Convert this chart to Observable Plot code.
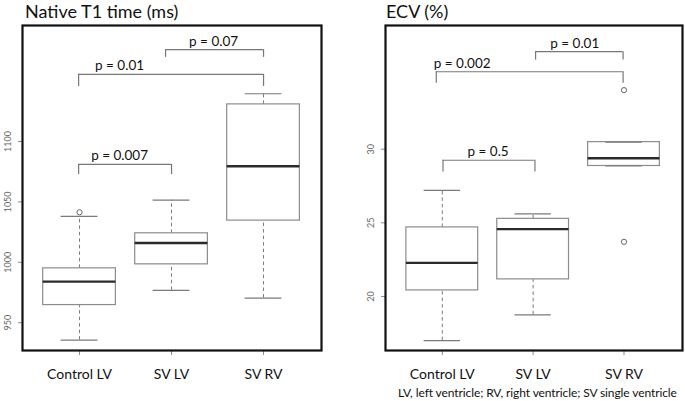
<!DOCTYPE html>
<html>
<head>
<meta charset="utf-8">
<script src="https://cdn.jsdelivr.net/npm/d3@7"></script>
<script src="https://cdn.jsdelivr.net/npm/@observablehq/plot@0.6"></script>
<style>
  body { margin: 0; background: #fff; font-family: Lato, "Open Sans", sans-serif; }
  #root { position: relative; width: 685px; height: 401px; overflow: hidden; }
  .title { position: absolute; font-size: 18px; color: #111; white-space: nowrap; line-height: 1; }
  .panel { position: absolute; }
  #foot { position: absolute; font-size: 12px; letter-spacing: -0.1px; color: #111; white-space: nowrap; line-height: 1; }
</style>
</head>
<body>
<div id="root">
  <div class="title" id="t1title" style="left:25px; top:2px;">Native T1 time (ms)</div>
  <div class="title" id="ecvtitle" style="left:386px; top:2px;">ECV (%)</div>
  <div class="panel" id="left" style="left:0; top:22px;"></div>
  <div class="panel" id="right" style="left:340px; top:22px;"></div>
  <div id="foot" style="left:398px; top:387px;">LV, left ventricle; RV, right ventricle; SV single ventricle</div>
</div>
<script>
const categories = ["Control LV", "SV LV", "SV RV"];

// Native T1 time (ms)
const t1Low    = [935.6, 976.8, 970.4];
const t1Q1     = [964.6, 998.3, 1034.5];
const t1Median = [984.0, 1016.0, 1079.5];
const t1Q3     = [995.0, 1024.0, 1130.7];
const t1High   = [1038.0, 1051.4, 1139.5];
const t1OutlierCat = ["Control LV"];
const t1OutlierVal = [1041.4];
const t1Ticks = [950, 1000, 1050, 1100];
const t1BracketLabel = ["p = 0.07", "p = 0.01", "p = 0.007"];
const t1BracketFrom  = [1.935, 0.99, 0.99];
const t1BracketTo    = [3.0, 3.0, 2.0];
const t1BracketY     = [1176, 1155.6, 1081];
const t1BracketDrop  = [1169.6, 1145.6, 1072.6];
const t1LabelX       = [2.457, 1.435, 1.435];

// ECV (%)
const ecvLow    = [17.0, 18.75, 28.86];
const ecvQ1     = [20.41, 21.16, 28.86];
const ecvMedian = [22.28, 24.57, 29.39];
const ecvQ3     = [24.69, 25.27, 30.48];
const ecvHigh   = [27.21, 25.61, 30.48];
const ecvOutlierCat = ["SV RV", "SV RV"];
const ecvOutlierVal = [34.01, 23.71];
const ecvTicks = [20, 25, 30];
const ecvBracketLabel = ["p = 0.01", "p = 0.002", "p = 0.5"];
const ecvBracketFrom  = [2.027, 0.934, 1.008];
const ecvBracketTo    = [2.99, 2.99, 2.02];
const ecvBracketY     = [36.62, 35.26, 29.25];
const ecvBracketDrop  = [36.05, 34.47, 28.46];
const ecvLabelX       = [2.458, 1.219, 1.504];

const BOX_HALF = 0.395, CAP_HALF = 0.2;
const FONT = "Lato, 'Open Sans', sans-serif";

function panel({low, q1, median, q3, high, outCat, outVal, ticks,
                bLabel, bFrom, bTo, bY, bDrop, bLabelX,
                width, height, marginLeft, marginRight, marginTop, marginBottom,
                xDomain, yDomain}) {
  const boxes = categories.map((c, i) => ({
    pos: i + 1, low: low[i], q1: q1[i], median: median[i], q3: q3[i], high: high[i]
  }));
  const outliers = outCat.map((c, i) => ({pos: categories.indexOf(c) + 1, v: outVal[i]}));
  const brackets = bLabel.map((l, i) => ({
    label: l, from: bFrom[i], to: bTo[i], y: bY[i], drop: bDrop[i], lx: bLabelX[i]
  }));
  return Plot.plot({
    width, height, marginLeft, marginRight, marginTop, marginBottom,
    style: {fontFamily: FONT, background: "white"},
    x: {type: "linear", domain: xDomain},
    y: {domain: yDomain},
    marks: [
      // whiskers (dashed)
      Plot.ruleX(boxes, {x: "pos", y1: "q3", y2: "high", stroke: "#7a7a7a", strokeDasharray: "3.5,3", strokeWidth: 1}),
      Plot.ruleX(boxes, {x: "pos", y1: "low", y2: "q1", stroke: "#7a7a7a", strokeDasharray: "3.5,3", strokeWidth: 1}),
      // boxes
      Plot.rect(boxes, {x1: d => d.pos - BOX_HALF, x2: d => d.pos + BOX_HALF, y1: "q1", y2: "q3",
        fill: "white", stroke: "#8c8c8c", strokeWidth: 1.2}),
      // whisker caps
      Plot.ruleY(boxes, {y: "high", x1: d => d.pos - CAP_HALF, x2: d => d.pos + CAP_HALF, stroke: "#7a7a7a", strokeWidth: 1.2}),
      Plot.ruleY(boxes, {y: "low", x1: d => d.pos - CAP_HALF, x2: d => d.pos + CAP_HALF, stroke: "#7a7a7a", strokeWidth: 1.2}),
      // medians
      Plot.ruleY(boxes, {y: "median", x1: d => d.pos - BOX_HALF, x2: d => d.pos + BOX_HALF, stroke: "#2a2a2a", strokeWidth: 2.4}),
      // outliers
      Plot.dot(outliers, {x: "pos", y: "v", r: 2.6, stroke: "#666", fill: "white", strokeWidth: 1}),
      // significance brackets
      Plot.ruleY(brackets, {y: "y", x1: "from", x2: "to", stroke: "#777", strokeWidth: 1.2}),
      Plot.ruleX(brackets, {x: "from", y1: "drop", y2: "y", stroke: "#777", strokeWidth: 1.2}),
      Plot.ruleX(brackets, {x: "to", y1: "drop", y2: "y", stroke: "#777", strokeWidth: 1.2}),
      Plot.text(brackets, {x: "lx", y: "y", text: "label", dy: -4, lineAnchor: "bottom",
        textAnchor: "middle", fontSize: 13.5, fill: "#111"}),
      // axes
      Plot.axisY({ticks, tickFormat: d => String(d), tickRotate: -90, tickSize: 4, tickPadding: 8, fontSize: 9,
        stroke: "#888", color: "#666", label: null}),
      Plot.axisX({ticks: [1, 2, 3], tickFormat: i => categories[i - 1], tickSize: 5, tickPadding: 14,
        fontSize: 14, stroke: "#888", color: "#111", label: null}),
      Plot.frame({stroke: "#111", strokeWidth: 2.2})
    ]
  });
}

document.getElementById("left").append(panel({
  low: t1Low, q1: t1Q1, median: t1Median, q3: t1Q3, high: t1High,
  outCat: t1OutlierCat, outVal: t1OutlierVal, ticks: t1Ticks,
  bLabel: t1BracketLabel, bFrom: t1BracketFrom, bTo: t1BracketTo, bY: t1BracketY,
  bDrop: t1BracketDrop, bLabelX: t1LabelX,
  width: 340, height: 360, marginLeft: 22, marginRight: 19, marginTop: 3, marginBottom: 32,
  xDomain: [0.38, 3.63], yDomain: [927, 1196]
}));

document.getElementById("right").append(panel({
  low: ecvLow, q1: ecvQ1, median: ecvMedian, q3: ecvQ3, high: ecvHigh,
  outCat: ecvOutlierCat, outVal: ecvOutlierVal, ticks: ecvTicks,
  bLabel: ecvBracketLabel, bFrom: ecvBracketFrom, bTo: ecvBracketTo, bY: ecvBracketY,
  bDrop: ecvBracketDrop, bLabelX: ecvLabelX,
  width: 345, height: 360, marginLeft: 45, marginRight: 3, marginTop: 3, marginBottom: 32,
  xDomain: [0.375, 3.644], yDomain: [16.33, 38.4]
}));
</script>
</body>
</html>
